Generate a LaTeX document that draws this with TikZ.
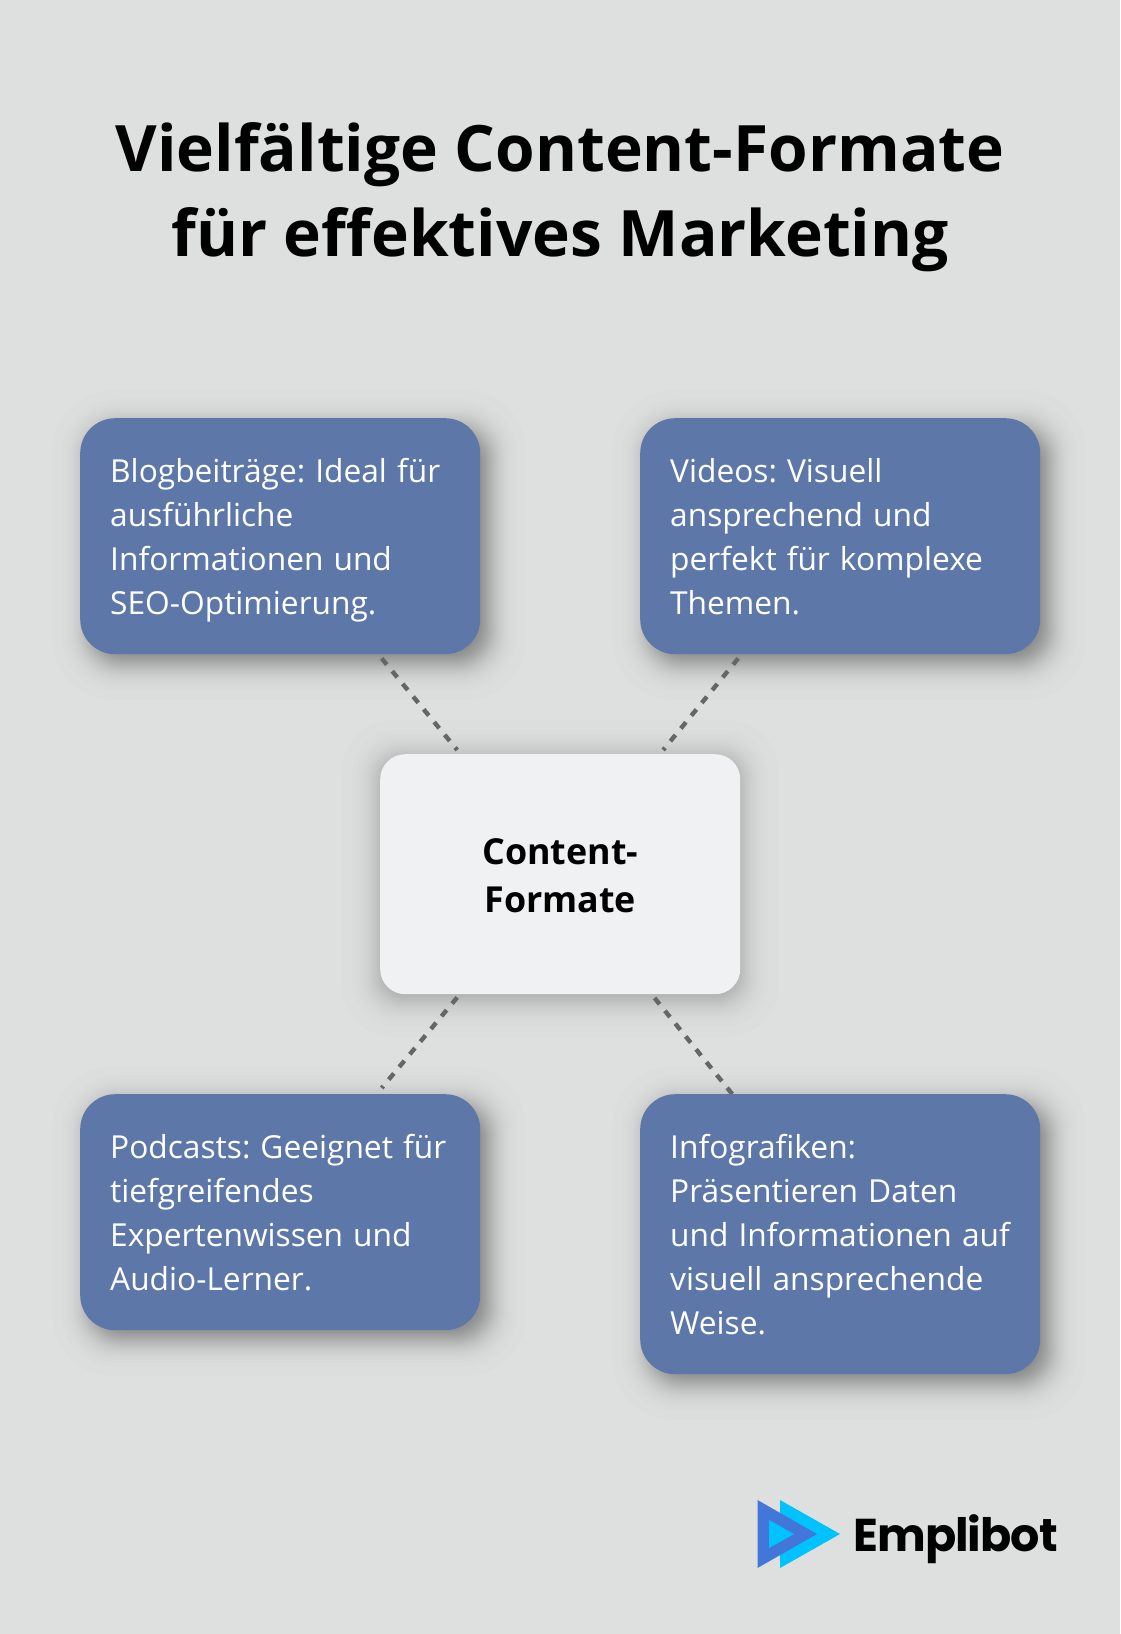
\documentclass[tikz,border=0pt]{standalone}
\usepackage{fontspec}
\setmainfont{Open Sans}
\newfontfamily\bodyfont{Open Sans}
\newfontfamily\logofont{Poppins}[BoldFont={* Bold},LetterSpace=-2]
\usetikzlibrary{calc,backgrounds}
\definecolor{bgc}{HTML}{DEE0DF}
\definecolor{boxc}{HTML}{5E77A9}
\definecolor{midc}{HTML}{EFF1F3}
\definecolor{dashc}{HTML}{666666}
\definecolor{logoa}{HTML}{00C2FF}
\definecolor{logob}{HTML}{4376D9}
\newcommand{\topst}{\rule[-9.5pt]{0pt}{44pt}}
% first line of a box: fix the word space, then set the tall strut
\newcommand{\bodystart}{\spaceskip 0.318em\relax\topst}
% node, dx, dy, radius, spread k, layers; equal faint layers at logistic quantiles
\newcommand{\softshadow}[6]{%
  \foreach \i in {1,...,#6}{%
    \pgfmathsetmacro{\s}{#5*ln((\i-0.5)/(#6+0.5-\i))}
    \fill[black,opacity=0.006,rounded corners={max(#4+\s*0.7,1)}]
      ($(#1.south west)+(#2-\s,#3+\s)$) rectangle ($(#1.north east)+(#2+\s,#3-\s)$);
  }}
\tikzset{
  infobox/.style={fill=boxc,text=white,rounded corners=35pt,anchor=north west,inner xsep=30pt,inner ysep=30pt,
    text width=340pt,align=left,font=\bodyfont\fontsize{31.7}{44}\selectfont\frenchspacing},
  midbox/.style={fill=midc,text=black,rounded corners=25pt,anchor=north west,minimum width=360pt,minimum height=240pt,
    inner sep=0pt,align=center,font=\fontsize{35.8}{48}\selectfont\bfseries},
  titlenode/.style={text=black,align=center,inner sep=0pt,font=\fontsize{64}{85}\selectfont\bfseries},
  conn/.style={draw=dashc,line width=4.4pt,dash pattern=on 8pt off 8.5pt},
}
\begin{document}
\begin{tikzpicture}[x=1pt,y=-1pt]
\useasboundingbox (0,0) rectangle (1120,1634);
\node[titlenode] (title) at (560,197.5) {Vielfältige Content-Formate\\für effektives Marketing};
\node[infobox] (blog) at (80,418) {\bodystart Blogbeiträge: Ideal für\\ausführliche\\Informationen und\\SEO-Optimierung.\topst};
\node[infobox] (video) at (640,418) {\bodystart Videos: Visuell\\ansprechend und\\perfekt für komplexe\\Themen.\topst};
\node[infobox] (pod) at (80,1094) {\bodystart Podcasts: Geeignet für\\tiefgreifendes\\Expertenwissen und\\Audio-Lerner.\topst};
\node[infobox] (info) at (640,1094) {\bodystart Infografiken:\\Präsentieren Daten\\\mbox{und Informationen auf}\\visuell ansprechende\\Weise.\topst};
\node[midbox] (mid) at (380,754) {\rule{0pt}{29.5pt}Content-\\Formate};
\node[inner sep=0pt,anchor=base west,font=\logofont\fontsize{46}{46}\selectfont\bfseries] (brand) at (853,1551) {Emplibot};
\begin{scope}[on background layer]
  \fill[bgc] (0,0) rectangle (1120,1634);
  \softshadow{blog}{9}{9}{35}{8}{50}
  \softshadow{video}{9}{9}{35}{8}{50}
  \softshadow{pod}{9}{9}{35}{8}{50}
  \softshadow{info}{9}{9}{35}{8}{50}
  \softshadow{mid}{0}{4}{25}{9}{36}
  \draw[conn] ([xshift=101.5pt,yshift=-4pt]blog.south) -- ([xshift=-103pt,yshift=4pt]mid.north);
  \draw[conn] ([xshift=-102pt,yshift=-4pt]video.south) -- ([xshift=103pt,yshift=4pt]mid.north);
  \draw[conn] ([xshift=-103pt,yshift=-3pt]mid.south) -- ([xshift=101.5pt,yshift=6pt]pod.north);
  \draw[conn] ([xshift=-108pt]info.north) -- ([xshift=91.5pt]mid.south);
\end{scope}
\fill[logoa] (780,1500) -- (840,1534) -- (780,1568) -- cycle;
\fill[logob] (757.5,1500) -- (817,1534) -- (757.5,1568) -- cycle;
\fill[logoa] (769,1520) -- (794,1534) -- (769,1548) -- cycle;
\end{tikzpicture}
\end{document}
